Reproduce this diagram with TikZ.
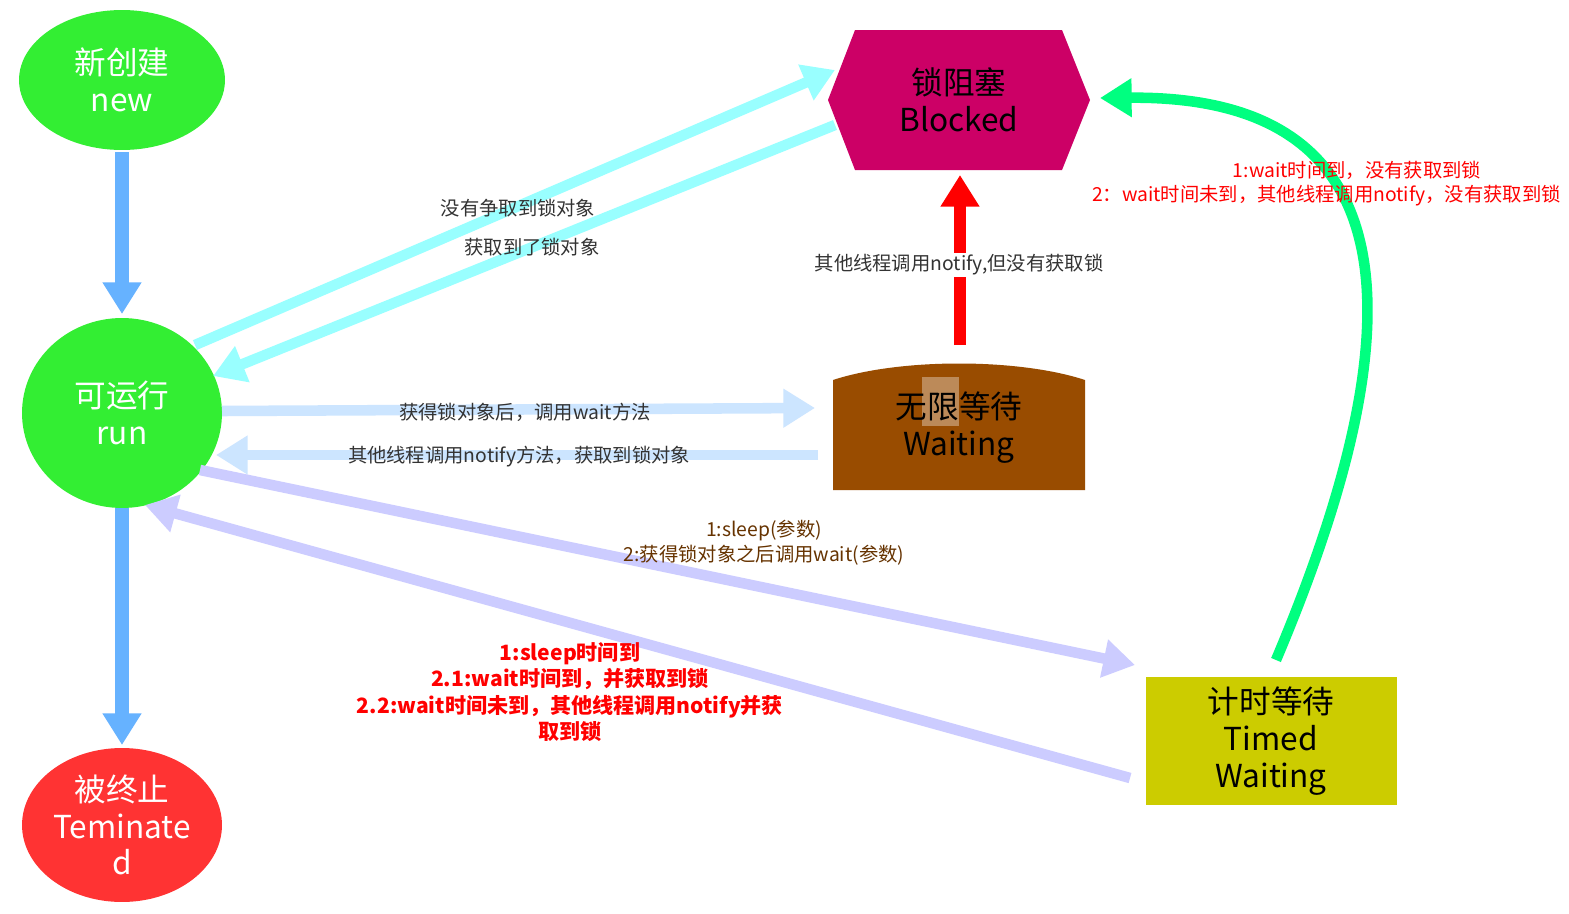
\documentclass[tikz,border=0pt]{standalone}
\usepackage{fontspec}
\setmainfont{Noto Sans CJK SC}
\usetikzlibrary{shapes.geometric,arrows.meta}
\definecolor{cgreen}{HTML}{33EE33}
\definecolor{cred}{HTML}{FF3333}
\definecolor{cblk}{HTML}{CC0066}
\definecolor{cwait}{HTML}{994C00}
\definecolor{ctimed}{HTML}{CCCC00}
\definecolor{cblue}{HTML}{66B2FF}
\definecolor{ccyan}{HTML}{99FFFF}
\definecolor{clblue}{HTML}{CCE5FF}
\definecolor{clav}{HTML}{CCCCFF}
\definecolor{cmint}{HTML}{00FF80}
\definecolor{cbrown}{HTML}{663300}
\definecolor{cgrey}{HTML}{333333}
\tikzset{
 state/.style={ellipse,fill=#1,text=white,font=\fontsize{18}{21}\selectfont,align=center,inner sep=0pt},
 big/.style={line width=#1,-{Triangle[length=18pt,width=21pt]}},
 lbl/.style={font=\fontsize{11}{14}\selectfont,text=cgrey,align=center,inner sep=1pt},
}
\begin{document}
\begin{tikzpicture}[x=0.02cm,y=-0.02cm]
\useasboundingbox (0,0) rectangle (1569,913);
\fill[white] (0,0) rectangle (1569,913);
% nodes
\node[state=cgreen,minimum width=206\pgflinewidth*0+4.12cm,minimum height=2.8cm] (new) at (122,80) {新创建\\new};
\node[state=cgreen,minimum width=4cm,minimum height=3.8cm] (run) at (122,413) {可运行\\run};
\node[state=cred,minimum width=4cm,minimum height=3.08cm] (term) at (122,825) {被终止\\Teminate\\d};
\fill[cblk] (828,100)--(855,30)--(1062,30)--(1090,100)--(1062,170)--(855,170)--cycle;
\node[font=\fontsize{18}{21}\selectfont,align=center] (blk) at (959,100) {锁阻塞\\Blocked};
\fill[cwait] (833,490)--(833,380) .. controls (900,358) and (1018,358) .. (1085,380)--(1085,490)--cycle;
\fill[white,opacity=0.35] (922,377) rectangle (959,426);
\node[font=\fontsize{18}{21}\selectfont,align=center] (wait) at (959,428) {无限等待\\Waiting};
\fill[ctimed] (1146,677) rectangle (1397,805);
\node[font=\fontsize{18}{21}\selectfont,align=center] (timed) at (1271,741) {计时等待\\Timed\\Waiting};
% connector end points
\coordinate (a1) at (122,152); \coordinate (a2) at (122,314);
\coordinate (b1) at (122,508); \coordinate (b2) at (122,745);
\coordinate (c1) at (195,345); \coordinate (c2) at (835,70);
\coordinate (d1) at (835,125); \coordinate (d2) at (213,376);
\coordinate (e1) at (222,411); \coordinate (e2) at (815,408);
\coordinate (f1) at (818,455); \coordinate (f2) at (216,455);
\coordinate (g1) at (200,470); \coordinate (g2) at (1135,665);
\coordinate (h1) at (1130,778); \coordinate (h2) at (145,505);
\coordinate (i1) at (960,345); \coordinate (i2) at (960,175);
\coordinate (j1) at (1276,660); \coordinate (j2) at (1100,98);
\draw[big=8pt,cblue] (a1)--(a2);
\draw[big=8pt,cblue] (b1)--(b2);
\draw[big=6pt,ccyan] (c1)--(c2);
\draw[big=6pt,ccyan] (d1)--(d2);
\draw[big=6pt,clblue] (e1)--(e2);
\draw[big=6pt,clblue] (f1)--(f2);
\draw[big=6pt,clav] (g1)--(g2);
\draw[big=6pt,clav] (h1)--(h2);
\draw[big=7pt,red] (i1)--(i2);
\draw[big=6pt,cmint] (j1) .. controls (1420,320) and (1410,95) .. (j2);
% labels
\node[lbl] at (518,208) {没有争取到锁对象};
\node[lbl] at (532,247) {获取到了锁对象};
\node[lbl,fill=white] at (959,265) {其他线程调用notify,但没有获取锁};
\node[lbl] at (525,412) {获得锁对象后，调用wait方法};
\node[lbl] at (519,457) {其他线程调用notify方法，获取到锁对象};
\node[lbl,text=cbrown] at (764,543) {1:sleep(参数)\\2:获得锁对象之后调用wait(参数)};
\node[lbl,text=red,font=\bfseries\fontsize{12}{15}\selectfont] at (570,692) {1:sleep时间到\\2.1:wait时间到，并获取到锁\\2.2:wait时间未到，其他线程调用notify并获\\取到锁};
\node[lbl,text=red] at (1357,170) {1:wait时间到，没有获取到锁};
\begin{scope}
\clip (0,0) rectangle (1569,913);
\node[lbl,text=red,anchor=west] at (1090,196) {2：wait时间未到，其他线程调用notify，没有获取到锁};
\end{scope}
\end{tikzpicture}
\end{document}
